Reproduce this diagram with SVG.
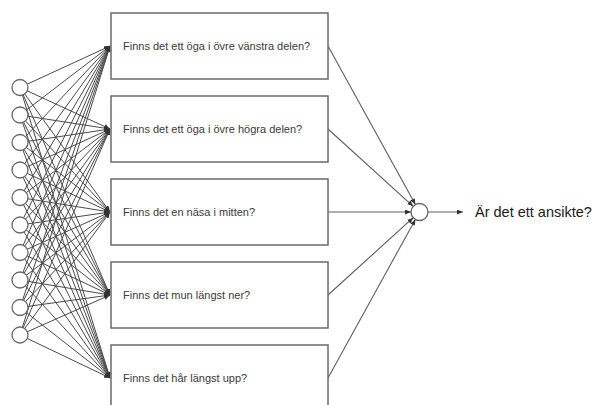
<svg xmlns="http://www.w3.org/2000/svg" width="593" height="405" viewBox="0 0 593 405">
<style>
.box{fill:#fff;stroke:#6a6a6a;stroke-width:1.5}
.lbl{font-family:"Liberation Sans",Arial,sans-serif;font-size:11px;fill:#3a3a3a}
.out{font-family:"Liberation Sans",Arial,sans-serif;font-size:14.5px;fill:#1a1a1a}
.in{fill:#fff;stroke:#666;stroke-width:1.3}
.c1{stroke:#4a4a4a;stroke-width:1;fill:none;marker-end:url(#ah)}
.c2{stroke:#5e5e5e;stroke-width:1.1;fill:none;marker-end:url(#ah)}
</style>
<defs>
<marker id="ah" markerUnits="userSpaceOnUse" markerWidth="6" markerHeight="5" refX="6" refY="2.5" orient="auto">
<path d="M0,0 L6,2.5 L0,5 z" fill="#333"/>
</marker>
</defs>
<g id="connectors">
<g id="to-q1">
<line class="c1" x1="20" y1="87.5" x2="110" y2="46"/><line class="c1" x1="20" y1="115" x2="110" y2="46"/><line class="c1" x1="20" y1="142.5" x2="110" y2="46"/><line class="c1" x1="20" y1="170" x2="110" y2="46"/><line class="c1" x1="20" y1="197.5" x2="110" y2="46"/><line class="c1" x1="20" y1="225" x2="110" y2="46"/><line class="c1" x1="20" y1="252.5" x2="110" y2="46"/><line class="c1" x1="20" y1="280" x2="110" y2="46"/><line class="c1" x1="20" y1="307.5" x2="110" y2="46"/><line class="c1" x1="20" y1="335" x2="110" y2="46"/>
</g>
<g id="to-q2">
<line class="c1" x1="20" y1="87.5" x2="110" y2="129"/><line class="c1" x1="20" y1="115" x2="110" y2="129"/><line class="c1" x1="20" y1="142.5" x2="110" y2="129"/><line class="c1" x1="20" y1="170" x2="110" y2="129"/><line class="c1" x1="20" y1="197.5" x2="110" y2="129"/><line class="c1" x1="20" y1="225" x2="110" y2="129"/><line class="c1" x1="20" y1="252.5" x2="110" y2="129"/><line class="c1" x1="20" y1="280" x2="110" y2="129"/><line class="c1" x1="20" y1="307.5" x2="110" y2="129"/><line class="c1" x1="20" y1="335" x2="110" y2="129"/>
</g>
<g id="to-q3">
<line class="c1" x1="20" y1="87.5" x2="110" y2="212"/><line class="c1" x1="20" y1="115" x2="110" y2="212"/><line class="c1" x1="20" y1="142.5" x2="110" y2="212"/><line class="c1" x1="20" y1="170" x2="110" y2="212"/><line class="c1" x1="20" y1="197.5" x2="110" y2="212"/><line class="c1" x1="20" y1="225" x2="110" y2="212"/><line class="c1" x1="20" y1="252.5" x2="110" y2="212"/><line class="c1" x1="20" y1="280" x2="110" y2="212"/><line class="c1" x1="20" y1="307.5" x2="110" y2="212"/><line class="c1" x1="20" y1="335" x2="110" y2="212"/>
</g>
<g id="to-q4">
<line class="c1" x1="20" y1="87.5" x2="110" y2="295"/><line class="c1" x1="20" y1="115" x2="110" y2="295"/><line class="c1" x1="20" y1="142.5" x2="110" y2="295"/><line class="c1" x1="20" y1="170" x2="110" y2="295"/><line class="c1" x1="20" y1="197.5" x2="110" y2="295"/><line class="c1" x1="20" y1="225" x2="110" y2="295"/><line class="c1" x1="20" y1="252.5" x2="110" y2="295"/><line class="c1" x1="20" y1="280" x2="110" y2="295"/><line class="c1" x1="20" y1="307.5" x2="110" y2="295"/><line class="c1" x1="20" y1="335" x2="110" y2="295"/>
</g>
<g id="to-q5">
<line class="c1" x1="20" y1="87.5" x2="110" y2="378"/><line class="c1" x1="20" y1="115" x2="110" y2="378"/><line class="c1" x1="20" y1="142.5" x2="110" y2="378"/><line class="c1" x1="20" y1="170" x2="110" y2="378"/><line class="c1" x1="20" y1="197.5" x2="110" y2="378"/><line class="c1" x1="20" y1="225" x2="110" y2="378"/><line class="c1" x1="20" y1="252.5" x2="110" y2="378"/><line class="c1" x1="20" y1="280" x2="110" y2="378"/><line class="c1" x1="20" y1="307.5" x2="110" y2="378"/><line class="c1" x1="20" y1="335" x2="110" y2="378"/>
</g>
<g id="to-out">
<line class="c2" x1="328" y1="46" x2="415.4" y2="204.6"/>
<line class="c2" x1="328" y1="129" x2="413.2" y2="206.3"/>
<line class="c2" x1="328" y1="212" x2="411" y2="212"/>
<line class="c2" x1="328" y1="295" x2="413.2" y2="217.7"/>
<line class="c2" x1="328" y1="378" x2="415.4" y2="219.4"/>
<line class="c2" x1="428" y1="212" x2="463" y2="212"/>
</g>
</g>
<g id="inputs">
<circle id="in1" class="in" cx="20" cy="87.5" r="8"/>
<circle id="in2" class="in" cx="20" cy="115" r="8"/>
<circle id="in3" class="in" cx="20" cy="142.5" r="8"/>
<circle id="in4" class="in" cx="20" cy="170" r="8"/>
<circle id="in5" class="in" cx="20" cy="197.5" r="8"/>
<circle id="in6" class="in" cx="20" cy="225" r="8"/>
<circle id="in7" class="in" cx="20" cy="252.5" r="8"/>
<circle id="in8" class="in" cx="20" cy="280" r="8"/>
<circle id="in9" class="in" cx="20" cy="307.5" r="8"/>
<circle id="in10" class="in" cx="20" cy="335" r="8"/>
</g>
<g id="q1"><rect class="box" x="111" y="13" width="217" height="66"/><text class="lbl" x="123" y="50">Finns det ett öga i övre vänstra delen?</text></g>
<g id="q2"><rect class="box" x="111" y="96" width="217" height="66"/><text class="lbl" x="123" y="133">Finns det ett öga i övre högra delen?</text></g>
<g id="q3"><rect class="box" x="111" y="179" width="217" height="66"/><text class="lbl" x="123" y="216">Finns det en näsa i mitten?</text></g>
<g id="q4"><rect class="box" x="111" y="262" width="217" height="66"/><text class="lbl" x="123" y="299">Finns det mun längst ner?</text></g>
<g id="q5"><rect class="box" x="111" y="345" width="217" height="66"/><text class="lbl" x="123" y="382">Finns det hår längst upp?</text></g>
<g id="output"><circle class="in" cx="419.5" cy="212" r="8.5"/></g>
<g id="answer"><text class="out" x="475" y="217">Är det ett ansikte?</text></g>
</svg>
